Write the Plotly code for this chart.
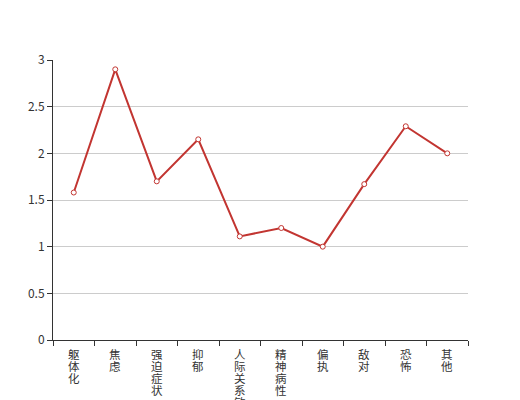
import plotly.graph_objects as go

categories = ["躯体化", "焦虑", "强迫症状", "抑郁", "人际关系敏感", "精神病性", "偏执", "敌对", "恐怖", "其他"]
values = [1.58, 2.90, 1.70, 2.15, 1.11, 1.20, 1.00, 1.67, 2.29, 2.00]
y_ticks = [0, 0.5, 1, 1.5, 2, 2.5, 3]
y_tick_labels = ["0", "0.5", "1", "1.5", "2", "2.5", "3"]

FONT = "Noto Sans CJK SC, sans-serif"

fig = go.Figure()
fig.add_trace(go.Scatter(
    x=categories, y=values, mode="lines+markers",
    line=dict(color="#c23531", width=2),
    marker=dict(symbol="circle", size=5, color="white",
                line=dict(color="#c23531", width=1)),
    hoverinfo="x+y",
))

# vertical (stacked-character) category labels
annotations = []
for cat in categories:
    for j, ch in enumerate(cat):
        annotations.append(dict(
            x=cat, y=0, xref="x", yref="y", text=ch, showarrow=False,
            xanchor="center", yanchor="top", yshift=-(4 + 12 * j),
            font=dict(family=FONT, size=11.5, color="#333"),
        ))

fig.update_layout(
    width=512, height=392,
    margin=dict(l=45, r=52, t=52, b=60, autoexpand=False),
    plot_bgcolor="white", paper_bgcolor="white",
    showlegend=False,
    font=dict(family=FONT, size=12, color="#333"),
    annotations=annotations,
)
fig.update_xaxes(
    type="category", tickmode="array", tickvals=categories,
    showticklabels=False,
    tickson="boundaries", ticks="outside", ticklen=5, tickcolor="#333",
    showline=True, linecolor="#333", linewidth=1, showgrid=False,
    range=[-0.5, len(categories) - 0.5], automargin=False,
)
fig.update_yaxes(
    range=[0, 3], tickmode="array", tickvals=y_ticks, ticktext=y_tick_labels,
    ticks="outside", ticklen=5, tickcolor="#333",
    showline=True, linecolor="#333", linewidth=1,
    showgrid=True, gridcolor="#ccc", gridwidth=1, zeroline=False,
    tickfont=dict(size=12, color="#333"), automargin=False,
)

fig.write_html("out.html")
